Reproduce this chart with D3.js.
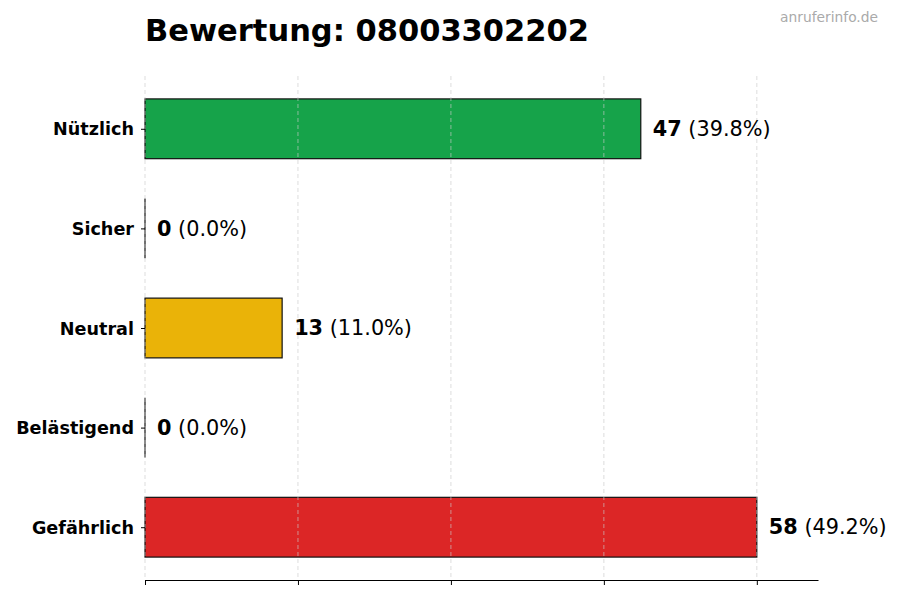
<!DOCTYPE html>
<html><head><meta charset="utf-8">
<script src="https://cdn.jsdelivr.net/npm/d3@7"></script>
<style>body{margin:0;background:#fff}svg{display:block;font-family:"DejaVu Sans",sans-serif}</style>
</head><body><svg id="c" width="900" height="600"></svg>
<script>
const categories = ["Nützlich","Sicher","Neutral","Belästigend","Gefährlich"];
const values = [47,0,13,0,58];
const percents = ["39.8%","0.0%","11.0%","0.0%","49.2%"];
const colors = ["#16a34a","#3b82f6","#eab308","#f97316","#dc2626"];
const title = "Bewertung: 08003302202";
const watermark = "anruferinfo.de";

const svg = d3.select("#c");
const L=145, R=818, T=76, B=580;
const maxV = d3.max(values);
const x = d3.scaleLinear().domain([0, maxV*1.1]).range([L, R]);
const n = categories.length, bh = 0.6;
const lo = -bh/2, hi = n-1+bh/2, pad = (hi-lo)*0.05;
const y = d3.scaleLinear().domain([lo-pad, hi+pad]).range([T, B]);
const xticks = [0,1,2,3,4].map(i=>maxV*i/4);

const g = svg.append("g");
categories.forEach((c,i)=>{
  const y0 = y(i-bh/2), y1 = y(i+bh/2);
  if(values[i]>0){
    g.append("rect").attr("x",x(0)).attr("y",y0).attr("width",x(values[i])-x(0)).attr("height",y1-y0)
     .attr("fill",colors[i]).attr("stroke","#111").attr("stroke-width",1.2);
  } else {
    g.append("line").attr("x1",x(0)).attr("x2",x(0)).attr("y1",y0).attr("y2",y1)
     .attr("stroke","#111").attr("stroke-width",1.2);
  }
});
svg.append("g").selectAll("line").data(xticks).join("line")
  .attr("x1",d=>x(d)).attr("x2",d=>x(d)).attr("y1",T).attr("y2",B)
  .attr("stroke","#cccccc").attr("stroke-width",0.8).attr("stroke-dasharray","4,3").attr("opacity",0.8);

const xa = svg.append("g").attr("transform",`translate(0,${B})`)
  .call(d3.axisBottom(x).tickValues(xticks).tickFormat("").tickSize(5).tickSizeOuter(0));
xa.select(".domain").attr("stroke","#000").attr("stroke-width",1.1);
xa.selectAll(".tick line").attr("stroke","#000").attr("stroke-width",1);

const ya = svg.append("g").attr("transform",`translate(${L},0)`)
  .call(d3.axisLeft(y).tickValues(d3.range(n)).tickFormat(i=>categories[i]).tickSize(4).tickPadding(7));
ya.select(".domain").remove();
ya.selectAll(".tick line").attr("stroke","#000");
ya.selectAll(".tick text").attr("font-family","DejaVu Sans").attr("font-weight","bold").attr("font-size","17.6px").attr("fill","#000").attr("dy","0.35em");

categories.forEach((c,i)=>{
  const t = svg.append("text").attr("x",x(values[i])+12).attr("y",y(i)).attr("dy","0.35em")
    .attr("font-size","20.8px").attr("fill","#000");
  t.append("tspan").attr("font-weight","bold").text(values[i]);
  t.append("tspan").text(" ("+percents[i]+")");
});

svg.append("text").attr("x",L).attr("y",41).attr("font-size","30.5px").attr("font-weight","bold").attr("fill","#000").text(title);
svg.append("text").attr("x",878).attr("y",22).attr("text-anchor","end").attr("font-size","13.8px").attr("fill","#aaaaaa").text(watermark);
</script></body></html>
